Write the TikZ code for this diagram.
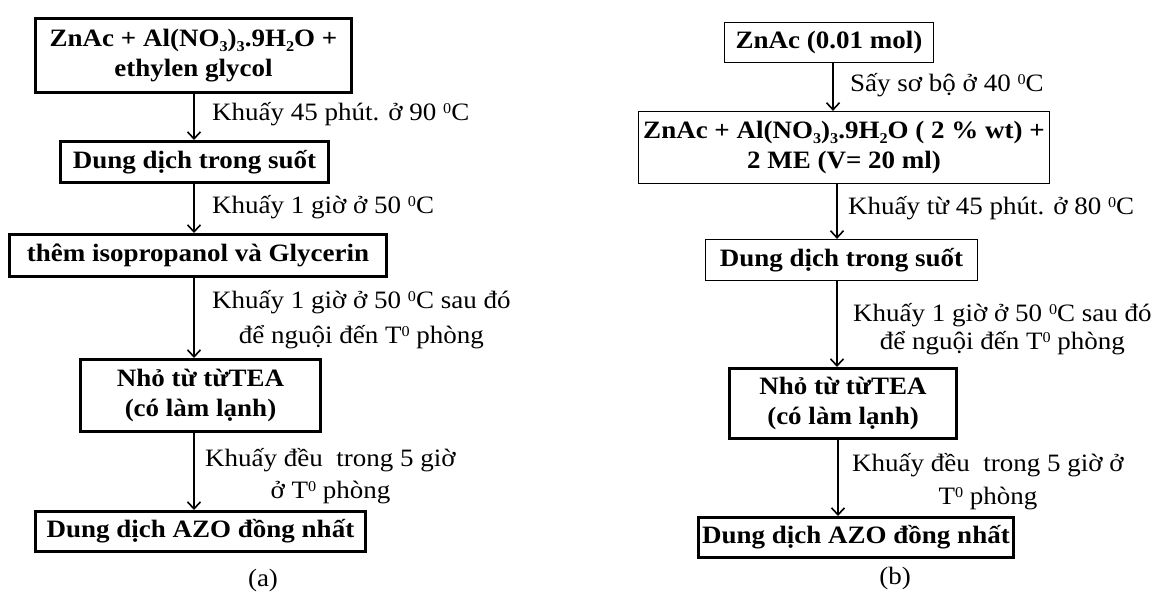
\documentclass[tikz,border=0pt]{standalone}
\usepackage{fontspec}
\setmainfont{Liberation Serif}[FakeStretch=1.08]
\usetikzlibrary{arrows.meta}
\tikzset{
  boxbase/.style={draw, inner sep=0pt, align=center, font=\fontsize{25}{30}\selectfont\bfseries},
  tbox/.style={boxbase, line width=3pt},
  nbox/.style={boxbase, line width=1.2pt},
  lbl/.style={anchor=west, align=center, inner sep=0pt, font=\fontsize{25}{35}\selectfont},
  captxt/.style={inner sep=0pt, font=\fontsize{25}{28}\selectfont},
  arr/.style={-{Straight Barb[length=7pt,width=13pt,line width=1.6pt]}, line width=2pt}
}
\newcommand{\dgz}{\raisebox{0.28em}{\fontsize{15}{15}\selectfont 0}}
\newcommand{\sbz}[1]{\raisebox{-0.2em}{\fontsize{15}{15}\selectfont #1}}
\begin{document}
\begin{tikzpicture}[x=1pt,y=-1pt]
\useasboundingbox (0,0) rectangle (1155,593);
% ---- (a) ----
\coordinate (xa) at (194,0);
\node[tbox, minimum width=316pt, minimum height=74pt] (a1) at (193.5,55.5) {ZnAc + Al(NO\sbz{3})\sbz{3}.9H\sbz{2}O +\\ethylen glycol};
\node[tbox, minimum width=268pt, minimum height=41pt] (a2) at (194.5,162) {Dung dịch trong suốt};
\node[tbox, minimum width=377pt, minimum height=42pt] (a3) at (198,255.5) {thêm isopropanol và Glycerin};
\node[tbox, minimum width=240pt, minimum height=72pt] (a4) at (200.5,395.5) {Nhỏ từ từTEA\\(có làm lạnh)};
\node[tbox, minimum width=330pt, minimum height=40pt] (a5) at (200.5,531.5) {Dung dịch AZO đồng nhất};
\draw[arr] (a1.south -| xa) -- (a2.north -| xa);
\draw[arr] (a2.south -| xa) -- (a3.north -| xa);
\draw[arr] (a3.south -| xa) -- (a4.north -| xa);
\draw[arr] (a4.south -| xa) -- (a5.north -| xa);
\node[lbl] (la1) at (212,114) {Khuấy 45 phút. ở 90 \dgz C};
\node[lbl] (la2) at (212,207) {Khuấy 1 giờ ở 50 \dgz C};
\node[lbl] (la3) at (212,320) {Khuấy 1 giờ ở 50 \dgz C sau đó\\để nguội đến T\dgz\ phòng};
\node[lbl, font=\fontsize{25}{32}\selectfont] (la4) at (205,476) {Khuấy đều\ \ trong 5 giờ\\ở T\dgz\ phòng};
\node[captxt] (capa) at (263,580) {(a)};
% ---- (b) ----
\coordinate (xb1) at (833,0);
\coordinate (xb2) at (837,0);
\coordinate (xb4) at (838,0);
\node[nbox, minimum width=209pt, minimum height=40pt] (b1) at (829,42.5) {ZnAc (0.01 mol)};
\node[nbox, minimum width=411pt, minimum height=72pt] (b2) at (844,147.5) {ZnAc + Al(NO\sbz{3})\sbz{3}.9H\sbz{2}O ( 2 \% wt) +\\2 ME (V= 20 ml)};
\node[nbox, minimum width=272pt, minimum height=41pt] (b3) at (841.5,260) {Dung dịch trong suốt};
\node[tbox, minimum width=227pt, minimum height=70pt] (b4) at (843,403.5) {Nhỏ từ từTEA\\(có làm lạnh)};
\node[tbox, minimum width=315pt, minimum height=40pt] (b5) at (856,537.5) {Dung dịch AZO đồng nhất};
\draw[arr] (b1.south -| xb1) -- (b2.north -| xb1);
\draw[arr] (b2.south -| xb2) -- (b3.north -| xb2);
\draw[arr] (b3.south -| xb2) -- (b4.north -| xb2);
\draw[arr] (b4.south -| xb4) -- (b5.north -| xb4);
\node[lbl] (lb1) at (850,85) {Sấy sơ bộ ở 40 \dgz C};
\node[lbl] (lb2) at (848,208) {Khuấy từ 45 phút. ở 80 \dgz C};
\node[lbl, font=\fontsize{25}{28}\selectfont] (lb3) at (853,329) {Khuấy 1 giờ ở 50 \dgz C sau đó\\để nguội đến T\dgz\ phòng};
\node[lbl, font=\fontsize{25}{33}\selectfont] (lb4) at (852,481.5) {Khuấy đều\ \ trong 5 giờ ở\\T\dgz\ phòng};
\node[captxt] (capb) at (895,578) {(b)};
\end{tikzpicture}
\end{document}
